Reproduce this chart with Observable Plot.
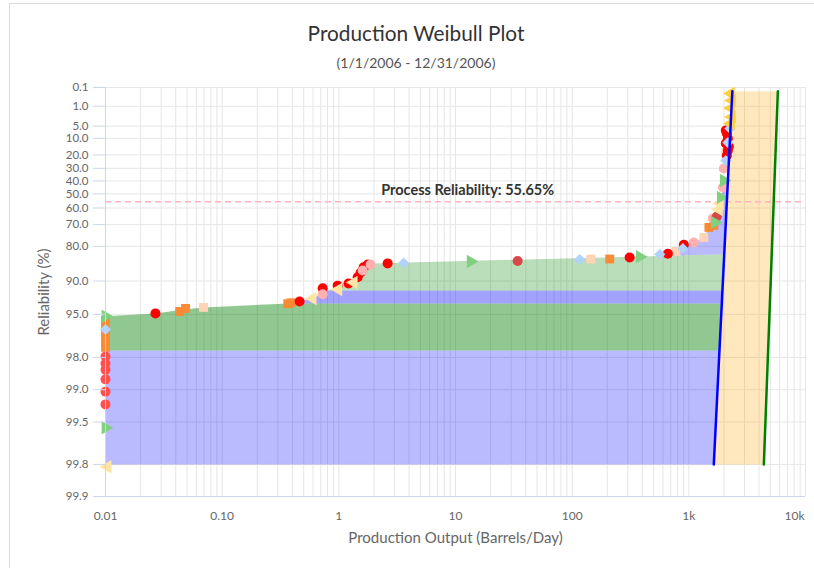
<!DOCTYPE html>
<html>
<head>
<meta charset="utf-8">
<script src="https://cdn.jsdelivr.net/npm/d3@7"></script>
<script src="https://cdn.jsdelivr.net/npm/@observablehq/plot@0.6"></script>
<style>
  body { margin: 0; background: #fff; font-family: Lato, "Open Sans", sans-serif; }
  #wrap { position: relative; width: 814px; height: 568px; overflow: hidden; background: #fff; }
  #border { position: absolute; left: 9px; top: 3px; width: 900px; height: 700px; border-left: 1px solid #d9d9d9; border-top: 1px solid #d9d9d9; }
  #title { position: absolute; left: 10px; width: 812px; top: 20px; text-align: center; font-size: 20.8px; color: #333; }
  #subtitle { position: absolute; left: 10px; width: 812px; top: 54px; text-align: center; font-size: 14px; color: #555; }
  #chart { position: absolute; left: 0; top: 75px; }
</style>
</head>
<body>
<div id="wrap">
  <div id="border"></div>
  <div id="title">Production Weibull Plot</div>
  <div id="subtitle">(1/1/2006 - 12/31/2006)</div>
  <div id="chart"></div>
</div>
<script>
// ---------- tick values & labels ----------
const yTicks = [0.1, 1, 5, 10, 20, 30, 40, 50, 60, 70, 80, 90, 95, 98, 99, 99.5, 99.8, 99.9];
const yTickLabels = ["0.1","1.0","5.0","10.0","20.0","30.0","40.0","50.0","60.0","70.0","80.0","90.0","95.0","98.0","99.0","99.5","99.8","99.9"];
const xTicks = [0.01, 0.1, 1, 10, 100, 1000, 10000];
const xTickLabels = ["0.01", "0.10", "1", "10", "100", "1k", "10k"];
const processReliability = 55.65;
const processLabel = "Process Reliability: 55.65%";
const xTitle = "Production Output (Barrels/Day)";
const yTitle = "Reliability (%)";

// ---------- scatter series: [output (barrels/day), reliability %] ----------
const orangeSquares = [[0.01,95.61],[0.01,96.21],[0.01,96.73],[0.01,97.19],[0.01,97.52],[0.0432,94.69],[0.0486,94.34],[0.365,93.75],[0.39,93.62],[210,84.4],[1486,71.5],[1640,70.4]];
const peachSquares = [[0.0692,94.22],[144.5,84.4],[774,81.9],[1346,76.3],[2075,18.3]];
const redCircles = [[0.0268,94.9],[0.461,93.45],[0.727,91.4],[0.977,90.9],[1.21,90.5],[1.45,89.2],[1.54,88.1],[1.63,86.8],[1.77,86.0],[2.62,85.7],[311,83.9],[661,82.7],[906,79.4],[2075,12.7],[2118,7.75],[2075,6.5],[2160,17.0],[2160,10.1],[2118,20.4],[2203,14.5]];
const redLeftCircles = [[0.01,97.96],[0.01,98.24],[0.01,98.46],[0.01,98.75],[0.01,99.04],[0.01,99.27]];
const pinkCircles = [[0.727,92.4],[1.6,87.6],[1.87,86.0],[1104,78.5],[1995,30.1],[1959,45.1],[1607,66.5]];
const darkRedCircles = [[34.1,85.0],[1738,65.4]];
const yellowTriangles = [[0.0104,99.81],[0.596,93.02],[0.99,91.6],[1.34,90.3],[1845,56.9],[1807,61.0]];
const greenTriangles = [[0.01,95.2],[0.01,99.56],[13.5,85.15],[380,83.7],[1671,68.8],[1880,52.6],[1995,39.6]];
const blueDiamonds = [[0.01,96.37],[3.59,85.6],[116,84.54],[564,82.9],[889,80.8],[2075,24.0],[2160,12.2],[2249,5.8]];
const goldTriangles = [[2290,0.23],[2338,0.54],[2290,1.2],[2338,2.6],[2290,4.2]];

// ---------- shaded regions (polygon vertices) ----------
const bandLow = [[0.01,99.8],[1637,99.8],[1829,97.68],[0.01,97.68]];
const bandLoss1 = [[0.01,97.68],[1829,97.68],[1910,93.72],[0.37,93.72],[0.0692,94.22],[0.045,94.5],[0.0268,94.9],[0.01,95.2]];
const bandMid = [[0.37,93.72],[1910,93.72],[1932,91.76],[0.8,91.76],[0.6,93.0]];
const bandLoss2 = [[0.8,91.76],[1932,91.76],[2009,82.9],[1.95,85.7],[1.6,87.6],[1.2,90.5]];
const bandTop = [[620,83.4],[774,81.9],[906,79.5],[1104,78.5],[1346,76.3],[1486,71.5],[1640,70.4],[1738,65.4],[1845,56.9],[1880,52.6],[1959,45.1],[1995,39.6],[2143,39.6],[2009,82.9]];
const confidenceBand = [[1637,99.8],[2360,0.17],[5795,0.17],[4395,99.8]];
const fitLine = [[1637,99.8],[2360,0.17]];
const upperLine = [[4395,99.8],[5795,0.17]];

// ---------- helpers ----------
const W = r => Math.log(-Math.log(r / 100));   // Weibull probability transform
const yLabel = new Map(yTicks.map((v, i) => [W(v), yTickLabels[i]]));
const xLabel = new Map(xTicks.map((v, i) => [v, xTickLabels[i]]));
const minorX = [];
for (let d = -2; d <= 3; d++) for (let k = 1; k <= 9; k++) minorX.push(k * Math.pow(10, d));
minorX.push(10000);

const px = d => d[0], py = d => W(d[1]);
const poly = (data, fill, op) => Plot.line(data, {x: px, y: py, fill, fillOpacity: op, stroke: "none"});
const dots = (data, fill, symbol, r, rotate = 0) =>
  Plot.dot(data, {x: px, y: py, fill, symbol, r, rotate, stroke: "none"});

const chart = Plot.plot({
  width: 814,
  height: 493,
  marginTop: 12,
  marginBottom: 72,
  marginLeft: 105,
  marginRight: 9,
  style: {fontFamily: "Lato, 'Open Sans', sans-serif", fontSize: "12px", background: "transparent"},
  x: {type: "log", domain: [0.01, 10000]},
  y: {type: "linear", domain: [W(99.9), W(0.1)]},
  marks: [
    Plot.gridX(minorX, {stroke: "#e6e6e6", strokeOpacity: 1}),
    Plot.gridY(yTicks.map(W), {stroke: "#e6e6e6", strokeOpacity: 1}),
    poly(bandLow, "#0000ff", 0.27),
    poly(bandLoss1, "#008000", 0.43),
    poly(bandMid, "#0000ff", 0.36),
    poly(bandLoss2, "#008000", 0.27),
    poly(bandTop, "#0000ff", 0.27),
    poly(confidenceBand, "#ffa500", 0.26),
    Plot.ruleY([W(processReliability)], {stroke: "#ffb3c1", strokeWidth: 1.5, strokeDasharray: "6,4"}),
    Plot.text([processLabel], {x: 12.7, y: W(processReliability), dy: -11, fontWeight: "bold", fontSize: 14.5, fill: "#333"}),
    dots(orangeSquares, "#f98b35", "square", 5),
    dots(peachSquares, "#ffd3b5", "square", 5),
    dots(redCircles, "#ff0000", "circle", 5),
    dots(redLeftCircles, "#ff5050", "circle", 5),
    dots(pinkCircles, "#ffb0b0", "circle", 5),
    dots(darkRedCircles, "#d94848", "circle", 5),
    dots(yellowTriangles, "#ffe4a3", "triangle", 5, -90),
    dots(greenTriangles, "#80d080", "triangle", 5, 90),
    dots(blueDiamonds, "#b0d2fb", "diamond2", 5),
    dots(goldTriangles, "#ffcf3a", "triangle", 5, -90),
    Plot.line(fitLine, {x: px, y: py, stroke: "#0000ff", strokeWidth: 2.5}),
    Plot.line(upperLine, {x: px, y: py, stroke: "#008000", strokeWidth: 2.5}),
    Plot.ruleX([0.01], {stroke: "#ccd6eb"}),
    Plot.ruleY([W(99.9)], {stroke: "#ccd6eb"}),
    Plot.axisY(yTicks.map(W), {tickFormat: d => yLabel.get(d), tickSize: 12, tickPadding: 5, stroke: "#ccd6eb", fill: "#666", fontSize: 11.5, label: null}),
    Plot.axisX(xTicks.slice(0, 6), {tickFormat: d => xLabel.get(d), tickSize: 0, tickPadding: 15, fill: "#666", fontSize: 12, label: null}),
    Plot.axisX([10000], {tickFormat: d => xLabel.get(d), tickSize: 0, tickPadding: 15, fill: "#666", fontSize: 12, textAnchor: "end", dx: -1, label: null}),
    Plot.text([xTitle], {frameAnchor: "bottom", dy: 46, fontSize: 15, fill: "#666"}),
    Plot.text([yTitle], {frameAnchor: "left", dx: -61, rotate: -90, textAnchor: "middle", fontSize: 15, fill: "#666"})
  ]
});
document.getElementById("chart").appendChild(chart);
</script>
</body>
</html>
